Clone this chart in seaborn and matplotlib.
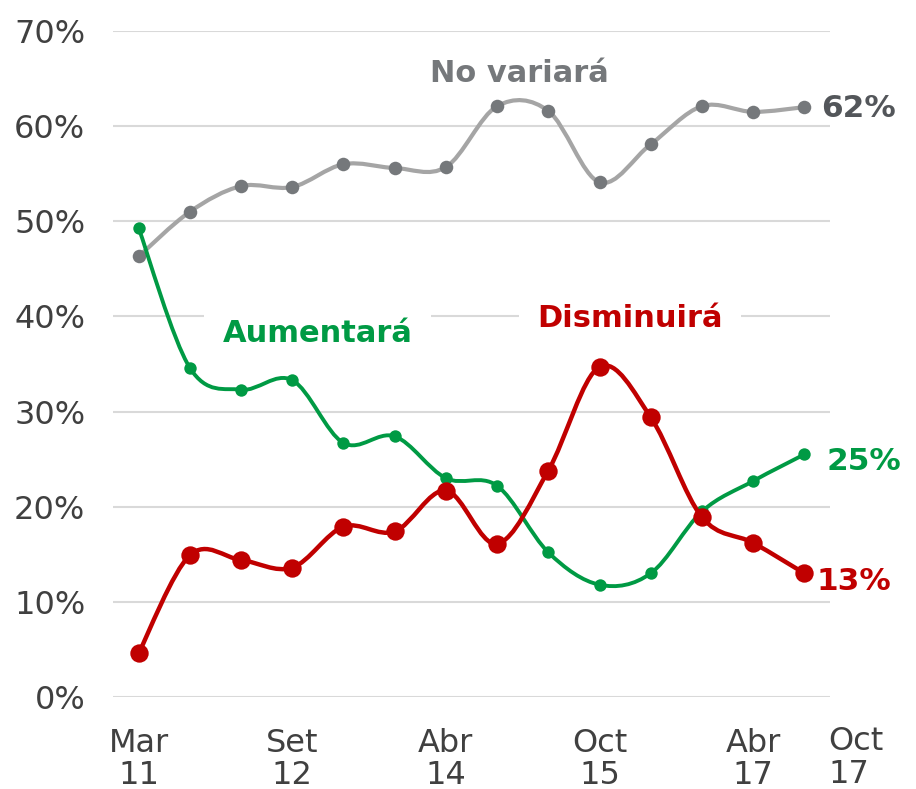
import numpy as np
import pandas as pd
import matplotlib
matplotlib.use("Agg")
import matplotlib.pyplot as plt
from matplotlib.path import Path
from matplotlib.patches import PathPatch
import matplotlib.transforms as mtransforms
import seaborn as sns

# -----------------------------------------------------------------------------
# Data (values in %)
# -----------------------------------------------------------------------------
tick_pos = [0, 3, 6, 9, 12]
tick_labels = ["Mar\n11", "Set\n12", "Abr\n14", "Oct\n15", "Abr\n17"]
extra_tick_pos = 14
extra_tick_label = "Oct\n17"

no_variara = [46.3, 51.0, 53.7, 53.6, 56.0, 55.6, 55.7, 62.1, 61.6, 54.1, 58.1, 62.1, 61.5, 62.0]
aumentara = [49.3, 34.6, 32.3, 33.3, 26.7, 27.4, 23.0, 22.2, 15.2, 11.8, 13.0, 19.5, 22.7, 25.5]
disminuira = [4.6, 14.9, 14.4, 13.6, 17.9, 17.4, 21.7, 16.1, 23.8, 34.7, 29.4, 18.9, 16.2, 13.0]

series_names = ["No variará", "Aumentará", "Disminuirá"]
end_labels = ["62%", "25%", "13%"]

GRAY_LINE = "#A5A5A5"
GRAY_DOT = "#75787B"
GRAY_DARK = "#53565A"
GREEN = "#009A44"
RED = "#C00000"
TICK_COLOR = "#404040"


def smooth_path(x, y):
    # Excel-like smoothed line: Catmull-Rom segments as cubic Beziers
    pts = np.column_stack([np.asarray(x, float), np.asarray(y, float)])
    n = len(pts)
    verts = [pts[0]]
    codes = [Path.MOVETO]
    for i in range(n - 1):
        p0 = pts[max(i - 1, 0)]
        p1 = pts[i]
        p2 = pts[i + 1]
        p3 = pts[min(i + 2, n - 1)]
        verts += [p1 + (p2 - p0) / 6, p2 - (p3 - p1) / 6, p2]
        codes += [Path.CURVE4] * 3
    return Path(verts, codes)


sns.set_style("white")
plt.rcParams["font.family"] = ["DejaVu Sans"]

fig = plt.figure(figsize=(9.16, 7.89), dpi=100)
ax = fig.add_axes([0.1234, 0.1166, 0.7827, 0.8441])

idx = np.arange(len(no_variara))
styles = [
    (no_variara, GRAY_LINE, GRAY_DOT, 3.0, 95, 2),
    (aumentara, GREEN, GREEN, 2.8, 80, 3),
    (disminuira, RED, RED, 3.2, 175, 4),
]
for vals, lc, mc, lw, ms, z in styles:
    ax.add_patch(PathPatch(smooth_path(idx, vals), fill=False, edgecolor=lc,
                           lw=lw, capstyle="round", joinstyle="round", zorder=z))
    sns.scatterplot(x=idx, y=vals, color=mc, s=ms, linewidth=0, ax=ax,
                    zorder=z + 0.1, legend=False)

ax.set_xlim(-0.5, 13.5)
ax.set_ylim(0, 70)
ax.set_yticks(range(0, 71, 10))
ax.set_yticklabels([f"{v}%" for v in range(0, 71, 10)])
ax.set_xticks(tick_pos)
ax.set_xticklabels(tick_labels, linespacing=1.05)
ax.tick_params(axis="both", length=0, labelsize=23, colors=TICK_COLOR)
ax.tick_params(axis="y", pad=20)
ax.tick_params(axis="x", pad=22)
ax.set_xlabel("")
ax.set_ylabel("")
ax.yaxis.grid(True, color="#D9D9D9", lw=1.5)
ax.xaxis.grid(False)
ax.set_axisbelow(True)
sns.despine(ax=ax, left=True, bottom=True)

# extra category label beyond the last point
trans = mtransforms.blended_transform_factory(ax.transData, ax.transAxes)
ax.text(extra_tick_pos, -0.044, extra_tick_label, transform=trans, ha="center",
        va="top", multialignment="left", fontsize=23, color=TICK_COLOR,
        linespacing=1.05, clip_on=False)

# series names
box = dict(boxstyle="square,pad=0.6", fc="white", ec="none")
ax.text(7.43, 64.6, series_names[0], ha="center", va="baseline", fontsize=22,
        fontweight="bold", color=GRAY_DOT, zorder=1.5)
ax.text(3.49, 37.3, series_names[1], ha="center", va="baseline", fontsize=22,
        fontweight="bold", color=GREEN, bbox=box, zorder=1.5)
ax.text(9.59, 38.9, series_names[2], ha="center", va="baseline", fontsize=22,
        fontweight="bold", color=RED, bbox=box, zorder=1.5)

# end value labels
ax.text(13.33, 61.0, end_labels[0], ha="left", va="baseline", fontsize=22.5,
        fontweight="bold", color=GRAY_DARK, clip_on=False)
ax.text(13.43, 23.9, end_labels[1], ha="left", va="baseline", fontsize=22.5,
        fontweight="bold", color=GREEN, clip_on=False)
ax.text(13.24, 11.25, end_labels[2], ha="left", va="baseline", fontsize=22.5,
        fontweight="bold", color=RED, clip_on=False)

fig.savefig("out.png", dpi=100)
